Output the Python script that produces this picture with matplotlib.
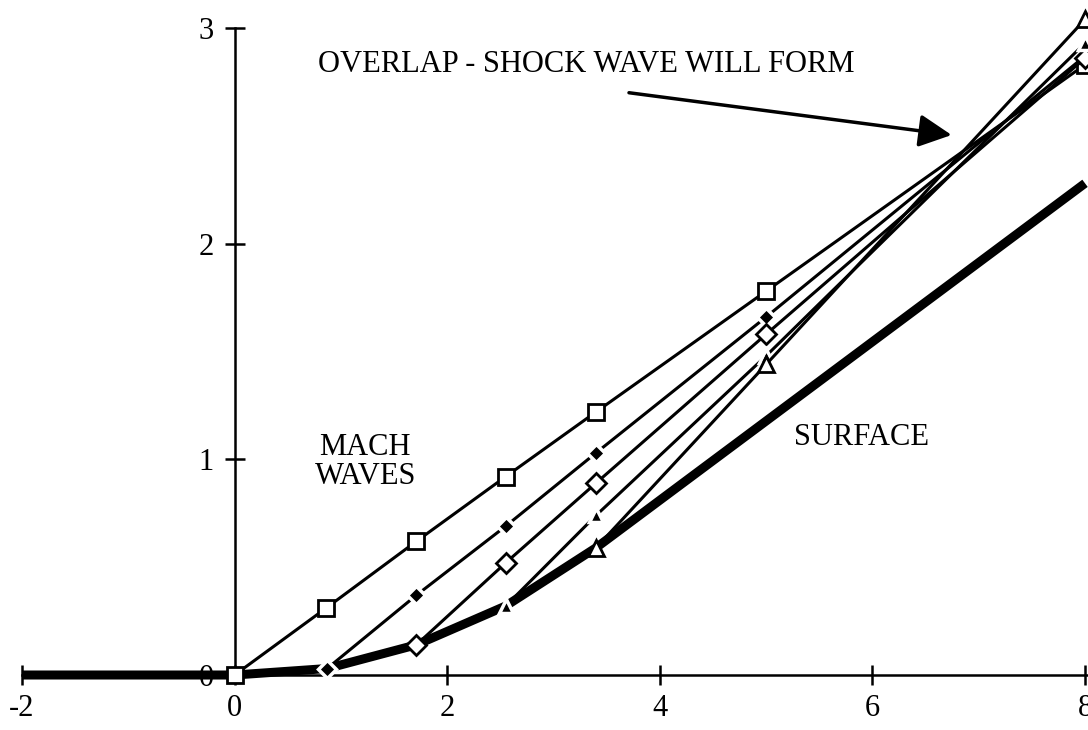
import matplotlib
matplotlib.use("Agg")
from matplotlib import pyplot as plt

plt.rcParams['font.family'] = ['Liberation Serif', 'DejaVu Serif']
plt.rcParams['axes.unicode_minus'] = False

# surface contour
surf_x = [-2.0, 0.0, 0.87, 1.71, 2.55, 3.40, 8.0]
surf_y = [0.0, 0.0, 0.03, 0.14, 0.32, 0.59, 2.28]

# mach waves, each starting from a point on the surface
w1_x = [0.0, 0.86, 1.71, 2.55, 3.40, 5.0, 8.0]
w1_y = [0.0, 0.31, 0.62, 0.92, 1.22, 1.78, 2.83]
w2_x = [0.87, 1.71, 2.55, 3.40, 5.0, 8.0]
w2_y = [0.03, 0.37, 0.69, 1.03, 1.66, 2.87]
w3_x = [1.71, 2.55, 3.40, 5.0, 8.0]
w3_y = [0.14, 0.52, 0.89, 1.58, 2.86]
w4_x = [2.55, 3.40, 5.0, 8.0]
w4_y = [0.32, 0.74, 1.48, 2.93]
w5_x = [3.40, 5.0, 8.0]
w5_y = [0.59, 1.44, 3.04]

xticks = [-2, 0, 2, 4, 6, 8]
yticks = [0, 1, 2, 3]

fig = plt.figure(figsize=(10.88, 7.3), dpi=100)
ax = fig.add_axes([0, 0, 1, 1])
ax.set_xlim(-2.207, 8.028)
ax.set_ylim(-0.255, 3.13)

thin = 2.2
ax.plot(surf_x, surf_y, color='black', lw=6.5, solid_capstyle='butt', zorder=3)
ax.plot(w1_x, w1_y, color='black', lw=thin, marker='s', ms=11,
        mfc='white', mec='black', mew=2, zorder=4)
ax.plot(w2_x, w2_y, color='black', lw=thin, marker='D', ms=9,
        mfc='black', mec='white', mew=2.5, zorder=4)
ax.plot(w3_x, w3_y, color='black', lw=thin, marker='D', ms=10,
        mfc='white', mec='black', mew=2, zorder=4)
ax.plot(w4_x, w4_y, color='black', lw=thin, marker='^', ms=10,
        mfc='black', mec='white', mew=2.5, zorder=4)
ax.plot(w5_x, w5_y, color='black', lw=thin, marker='^', ms=12,
        mfc='white', mec='black', mew=2, zorder=5)

for s in ['top', 'right']:
    ax.spines[s].set_visible(False)
ax.spines['left'].set_position(('data', 0))
ax.spines['bottom'].set_position(('data', 0))
ax.spines['left'].set_bounds(0, 3)
ax.spines['bottom'].set_bounds(-2, 8.03)
ax.spines['left'].set_linewidth(1.8)
ax.spines['bottom'].set_linewidth(1.8)

ax.set_xticks(xticks)
ax.set_yticks(yticks)
ax.tick_params(axis='x', direction='inout', length=15, width=1.8, pad=6, labelsize=22)
ax.tick_params(axis='y', direction='inout', length=14, width=1.8, pad=8, labelsize=22)

ax.text(0.78, 2.83, 'OVERLAP - SHOCK WAVE WILL FORM', fontsize=22, ha='left', va='center')
ax.text(1.23, 0.99, 'MACH\nWAVES', fontsize=22, ha='center', va='center',
        multialignment='center', linespacing=1.0)
ax.text(5.9, 1.10, 'SURFACE', fontsize=22, ha='center', va='center')
ax.annotate('', xy=(6.745, 2.504), xytext=(3.71, 2.70),
            arrowprops=dict(arrowstyle='-|>', lw=2.5, color='black', mutation_scale=50,
                            shrinkA=0, shrinkB=0))

fig.savefig('out.png', dpi=100)
